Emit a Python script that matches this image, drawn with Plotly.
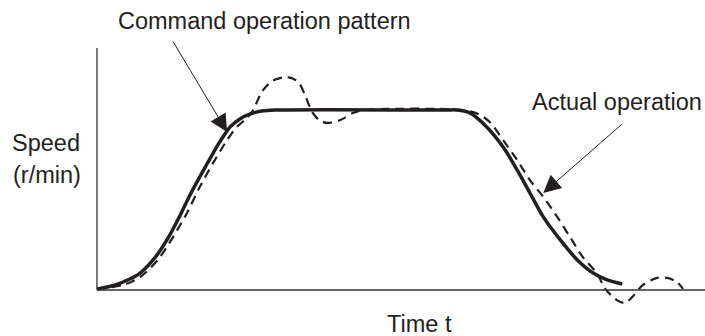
import plotly.graph_objects as go

# Command operation pattern: time (arbitrary units) vs speed (% of rated)
cmd_t = [0, 3.0, 5.4, 7.1, 9.5, 11.5, 13.7, 15.3, 16.9, 19.1, 20.6, 21.9, 23.5, 25.2, 27.1, 29.3,
         57.5, 59.2, 61.4, 64.1, 66.8, 69.1, 71.2, 73.4, 76.2, 79.0, 81.6, 83.9, 86.4]
cmd_s = [0.5, 2.8, 6.1, 9.4, 17.8, 27.8, 41.7, 52.8, 62.8, 76.1, 84.4, 90.6, 95.0, 97.8, 99.4, 100,
         100, 100, 98.3, 90.6, 79.4, 66.7, 53.9, 40.6, 27.8, 16.7, 9.4, 5.6, 3.3]

# Actual operation: lags the command, overshoots and settles
act_t = [0, 4.3, 7.1, 10.0, 12.5, 14.8, 16.9, 19.1, 21.4, 23.0, 24.7, 25.7, 27.1, 28.8, 31.3,
         33.1, 34.2, 35.4, 36.7, 38.0, 40.0, 42.1, 44.1, 60.0, 62.7, 64.6, 66.8, 69.1, 71.2,
         73.4, 75.7, 77.8, 79.9, 82.2, 83.6, 85.5, 86.8, 88.2, 89.8, 92.1, 93.8, 95.4, 96.4]
act_s = [0.5, 2.8, 7.2, 16.7, 29.4, 42.8, 57.2, 70.6, 83.3, 90.6, 95.6, 100, 110, 116.1, 118.3,
         115.6, 108.3, 98.9, 93.9, 92.8, 94.4, 98.3, 100, 100, 97.8, 93.3, 83.3, 72.2, 61.1,
         51.7, 40.6, 29.4, 18.3, 9.4, 0.6, -5.6, -7.2, -3.3, 2.8, 6.7, 6.7, 4.4, 0.6]

INK = "#231f20"
FONT = "Liberation Sans, Arial, sans-serif"
FS = 23.5

fig = go.Figure()
fig.add_trace(go.Scatter(x=act_t, y=act_s, mode="lines",
                         line=dict(color=INK, width=2.2, dash="9px,6px", shape="spline", smoothing=0.8),
                         hoverinfo="skip"))
fig.add_trace(go.Scatter(x=cmd_t, y=cmd_s, mode="lines",
                         line=dict(color=INK, width=3.5, shape="spline", smoothing=0.8),
                         hoverinfo="skip"))

# axes drawn as plain lines from the origin
fig.add_shape(type="line", x0=0, y0=0, x1=0, y1=134.4, xref="x", yref="y",
              line=dict(color="#333333", width=1.3))
fig.add_shape(type="line", x0=0, y0=0, x1=100, y1=0, xref="x", yref="y",
              line=dict(color="#333333", width=1.3))

W, H = 705, 336


def px(x, y):
    return x / W, 1 - y / H


labels = [
    ("Command operation pattern", 264, 21),
    ("Actual operation", 617, 102),
    ("Speed", 46, 143),
    ("(r/min)", 47, 175),
    ("Time t", 419, 324),
]
for txt, x, y in labels:
    xp, yp = px(x, y)
    fig.add_annotation(text=txt, x=xp, y=yp, xref="paper", yref="paper",
                       showarrow=False, xanchor="center", yanchor="middle",
                       font=dict(family=FONT, size=FS, color=INK))

# leader arrows
fig.add_annotation(x=21.4, y=87.8, ax=-55, ay=-92, text="", showarrow=True,
                   arrowhead=2, arrowsize=3.5, arrowwidth=1, arrowcolor=INK)
fig.add_annotation(x=73.4, y=53.9, ax=80, ay=-70, text="", showarrow=True,
                   arrowhead=2, arrowsize=3.5, arrowwidth=1, arrowcolor=INK)

fig.update_layout(
    width=W, height=H, margin=dict(l=0, r=0, t=0, b=0),
    paper_bgcolor="white", plot_bgcolor="white", showlegend=False,
    xaxis=dict(range=[-97 / 6.08, 100], visible=False, fixedrange=True),
    yaxis=dict(range=[(290 - 336) / 1.8, 290 / 1.8], visible=False, fixedrange=True),
)
fig.write_html("out.html")
